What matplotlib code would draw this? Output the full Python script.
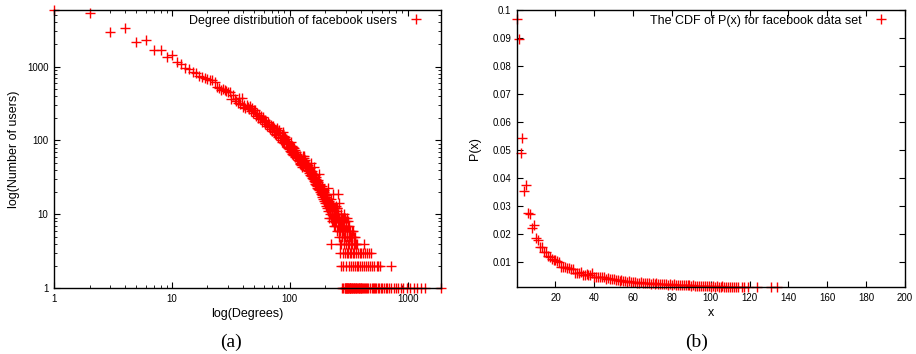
import matplotlib
matplotlib.use("Agg")
import matplotlib.pyplot as plt
from matplotlib.ticker import FixedLocator, LogLocator, NullFormatter, FuncFormatter
import numpy as np

plt.rcParams['font.family'] = ['Liberation Sans', 'DejaVu Sans']

# degree distribution: number of users for degree 1..250
users_head = [
    5900, 5370, 2960, 3300, 2150, 2280, 1670, 1650, 1360, 1420,
    1140, 1090, 940, 930, 835, 825, 740, 720, 690, 675,
    665, 660, 615, 527, 505, 480, 490, 480, 466, 455,
    445, 367, 412, 365, 340, 318, 372, 310, 372, 286,
    300, 275, 305, 280, 262, 290, 250, 272, 235, 255,
    258, 215, 232, 200, 222, 195, 212, 178, 205, 182,
    190, 168, 176, 158, 180, 150, 168, 142, 162, 150,
    135, 158, 130, 148, 122, 140, 118, 145, 112, 130,
    138, 108, 125, 102, 120, 96, 130, 95, 115, 92,
    112, 88, 104, 82, 98, 80, 94, 76, 92, 84,
    72, 95, 70, 85, 66, 82, 64, 78, 70, 60,
    74, 62, 70, 66, 58, 64, 55, 62, 52, 58,
    50, 61, 48, 55, 46, 52, 44, 50, 47, 62,
    52, 58, 61, 47, 54, 44, 50, 42, 48, 45,
    40, 46, 38, 44, 36, 41, 39, 34, 42, 37,
    33, 49, 36, 31, 38, 30, 35, 32, 28, 44,
    31, 27, 34, 29, 26, 32, 25, 30, 24, 28,
    23, 29, 26, 22, 27, 35, 24, 21, 26, 22,
    20, 25, 19, 23, 21, 18, 24, 20, 17, 22,
    19, 16, 21, 18, 15, 20, 17, 14, 19, 16,
    18, 15, 17, 13, 19, 14, 16, 12, 15, 13,
    23, 11, 14, 12, 9, 15, 13, 11, 14, 10,
    12, 16, 9, 13, 4, 11, 12, 8, 10, 14,
    9, 19, 13, 8, 12, 10, 7, 11, 9, 12,
    8, 10, 7, 13, 9, 11, 8, 10, 6, 12,
]

# tail of the distribution: degrees grouped by their (small) user count
tail_extra_deg = [251, 253, 255, 256, 259, 274, 288]
tail_extra_cnt = [12, 11, 10, 19, 14, 10, 10]
tail_levels = {
    9: [252, 258, 263, 270, 276, 284, 295, 305],
    8: [254, 261, 267, 273, 281, 290, 300, 312],
    7: [257, 265, 271, 279, 287, 298, 309, 318],
    6: [260, 268, 275, 283, 292, 303, 315, 326, 337, 345],
    5: [262, 278, 286, 296, 307, 316, 323, 331, 340, 352, 360],
    4: [264, 272, 289, 302, 311, 320, 328, 335, 348, 356, 366, 372, 424],
    3: [266, 280, 293, 306, 314, 324, 332, 342, 350, 362, 375, 390, 402,
        418, 435, 452, 470, 488],
    2: [269, 285, 299, 317, 330, 344, 355, 368, 380, 395, 410, 428, 440,
        458, 475, 500, 520, 545, 560, 580, 727],
    1: [277, 282, 291, 294, 297, 301, 304, 308, 310, 313, 319, 321, 325,
        327, 333, 336, 339, 343, 347, 351, 358, 361, 364, 370, 377, 383,
        388, 393, 399, 405, 412, 420, 426, 432, 445, 455, 462, 480, 495,
        505, 515, 530, 540, 555, 570, 590, 610, 630, 650, 672, 700, 720,
        760, 790, 830, 870, 920, 980, 1050, 1120, 1200, 1290, 1390, 1900],
}

# P(x) for x = 0..114, plus the few points left above the lower limit
pdf_head = [
    0.0967, 0.0894, 0.0487, 0.0541, 0.0355, 0.0375, 0.0274, 0.0273, 0.0222, 0.0233,
    0.0187, 0.0180, 0.0153, 0.0152, 0.0136, 0.0135, 0.0120, 0.0118, 0.0112, 0.0109,
    0.0108, 0.0104, 0.0100, 0.0084, 0.0081, 0.0082, 0.0079, 0.0080, 0.0075, 0.0074,
    0.0061, 0.0060, 0.0062, 0.0065, 0.0055, 0.0054, 0.0057, 0.0053, 0.0055, 0.0062,
    0.0047, 0.0048, 0.0046, 0.0047, 0.0046, 0.0045, 0.0041, 0.0043, 0.0038, 0.0041,
    0.0038, 0.0036, 0.0037, 0.0034, 0.0035, 0.0032, 0.0033, 0.0030, 0.0031, 0.0029,
    0.0028, 0.0030, 0.0027, 0.0026, 0.0028, 0.0025, 0.0026, 0.0024, 0.0026, 0.0023,
    0.0025, 0.0023, 0.0024, 0.0022, 0.0023, 0.0021, 0.0022, 0.0021, 0.0020, 0.0022,
    0.0019, 0.0021, 0.0018, 0.0019, 0.0017, 0.0019, 0.0018, 0.0020, 0.0017, 0.0018,
    0.0016, 0.0019, 0.0015, 0.0016, 0.0014, 0.0015, 0.0014, 0.0013, 0.0015, 0.0013,
    0.0012, 0.0014, 0.0012, 0.0013, 0.0011, 0.0012, 0.0013, 0.0011, 0.0012, 0.0010,
    0.0011, 0.0012, 0.0010, 0.0011, 0.0010,
]
pdf_tail_x = [116, 117, 119, 124, 131, 134]
pdf_tail_p = [0.00100, 0.00098, 0.00098, 0.00097, 0.00097, 0.00097]

deg = list(range(1, len(users_head) + 1)) + tail_extra_deg
cnt = list(users_head) + tail_extra_cnt
for level, ds in tail_levels.items():
    deg += ds
    cnt += [level] * len(ds)

px = list(range(len(pdf_head))) + pdf_tail_x
py = list(pdf_head) + pdf_tail_p

fig = plt.figure(figsize=(9.16, 3.54), dpi=100)
ax1 = fig.add_axes([0.059, 0.186, 0.422, 0.787])
ax2 = fig.add_axes([0.564, 0.188, 0.424, 0.785])

mk = dict(ls='none', marker='+', color='red', ms=6.5, mew=1.0, clip_on=False)

#Left: degree distribution, log-log
ax1.plot(deg, cnt, label="Degree distribution of facebook users", **mk)
ax1.set_xscale('log')
ax1.set_yscale('log')
ax1.set_xlim(1, 1900)
ax1.set_ylim(1, 5900)
intfmt = FuncFormatter(lambda v, p: "%d" % round(v))
for a in (ax1.xaxis, ax1.yaxis):
    a.set_major_locator(LogLocator(base=10))
    a.set_minor_locator(LogLocator(base=10, subs=np.arange(2, 10)))
    a.set_major_formatter(intfmt)
    a.set_minor_formatter(NullFormatter())
ax1.set_xlabel("log(Degrees)", fontsize=9, labelpad=3)
ax1.set_ylabel("log(Number of users)", fontsize=9, labelpad=5)

#Right: P(x)
ax2.plot(px, py, label="The CDF of P(x) for facebook data set", **mk)
ax2.set_xlim(0, 200)
ax2.set_ylim(0.00095, 0.1)
ax2.xaxis.set_major_locator(FixedLocator(np.arange(20, 201, 20)))
ax2.yaxis.set_major_locator(FixedLocator([0.01, 0.02, 0.03, 0.04, 0.05,
                                          0.06, 0.07, 0.08, 0.09, 0.1]))
ax2.yaxis.set_major_formatter(FuncFormatter(lambda v, p: ("%.2f" % v).rstrip('0').rstrip('.')))
ax2.set_xlabel("x", fontsize=9, labelpad=3)
ax2.set_ylabel("P(x)", fontsize=9, labelpad=8)

for ax in (ax1, ax2):
    ax.tick_params(direction='in', which='major', length=4, width=0.8,
                   top=True, right=True, labelsize=7, pad=4)
    ax.tick_params(direction='in', which='minor', length=2, width=0.6,
                   top=True, right=True)
    for s in ax.spines.values():
        s.set_linewidth(1.0)
    ax.legend(loc='upper right', bbox_to_anchor=(0.966, 1.0), frameon=False,
              markerfirst=False, fontsize=9, handlelength=1.0,
              handletextpad=1.0, borderaxespad=0.0, numpoints=1)

fig.text(0.252, 0.02, "(a)", family='Liberation Serif', fontsize=14, ha='center')
fig.text(0.760, 0.02, "(b)", family='Liberation Serif', fontsize=14, ha='center')

plt.savefig("out.png", dpi=100)
